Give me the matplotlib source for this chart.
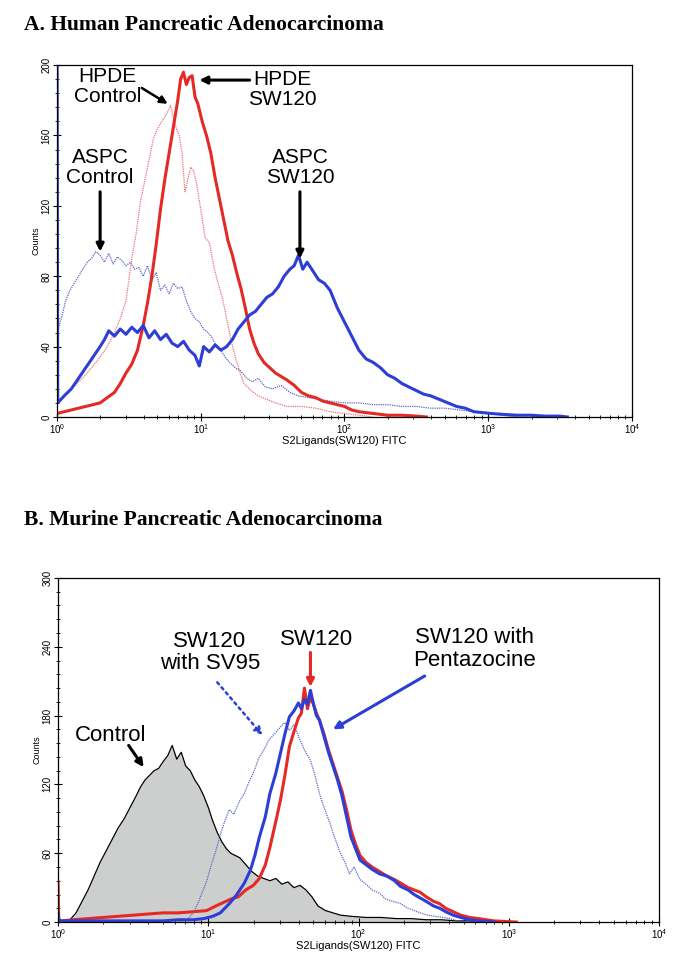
import numpy as np
import matplotlib
matplotlib.use("Agg")
import matplotlib.pyplot as plt
from matplotlib.ticker import MultipleLocator, AutoMinorLocator

plt.rcParams['font.family'] = ['Liberation Sans', 'DejaVu Sans']

RED = '#e42a24'
BLUE = '#2c3ed6'
PINK = '#e8727c'
LBLUE = '#5d66c8'

# ---- panel A: human (x in log10 channel, y in counts) ----
aspc_sw120_log = [0, 0.005, 0.05, 0.10, 0.15, 0.20, 0.25, 0.30, 0.33, 0.36,
                  0.40, 0.44, 0.48, 0.52, 0.56, 0.60, 0.64, 0.68, 0.72, 0.76,
                  0.80, 0.84, 0.88, 0.92, 0.96, 0.99, 1.02, 1.06, 1.10, 1.14,
                  1.18, 1.22, 1.26, 1.30, 1.34, 1.38, 1.42, 1.46, 1.50, 1.54,
                  1.58, 1.62, 1.65, 1.68, 1.71, 1.74, 1.78, 1.82, 1.86, 1.90,
                  1.95, 2.00, 2.05, 2.10, 2.15, 2.20, 2.25, 2.30, 2.35, 2.40,
                  2.45, 2.50, 2.55, 2.60, 2.66, 2.72, 2.78, 2.84, 2.90, 2.96,
                  3.02, 3.10, 3.20, 3.30, 3.40, 3.50, 3.55]
aspc_sw120_counts = [250, 8, 12, 16, 22, 28, 34, 40, 44, 49,
                     46, 50, 47, 51, 48, 52, 45, 49, 44, 47,
                     42, 40, 43, 38, 35, 29, 40, 37, 41, 38,
                     40, 44, 50, 54, 58, 60, 64, 68, 70, 74,
                     80, 84, 86, 92, 84, 88, 83, 78, 76, 72,
                     62, 54, 46, 38, 33, 31, 28, 24, 22, 19,
                     17, 15, 13, 12, 10, 8, 6, 5, 3, 2.5,
                     2, 1.5, 1, 1, 0.5, 0.5, 0]

hpde_sw120_log = [0, 0.05, 0.10, 0.15, 0.20, 0.25, 0.30, 0.35, 0.40, 0.44,
                  0.48, 0.52, 0.56, 0.60, 0.63, 0.66, 0.69, 0.72, 0.75, 0.78,
                  0.81, 0.84, 0.86, 0.88, 0.90, 0.92, 0.94, 0.96, 0.98, 1.01,
                  1.04, 1.07, 1.10, 1.13, 1.16, 1.19, 1.22, 1.25, 1.28, 1.31,
                  1.34, 1.37, 1.40, 1.44, 1.48, 1.52, 1.56, 1.60, 1.65, 1.70,
                  1.75, 1.80, 1.85, 1.90, 1.95, 2.00, 2.05, 2.10, 2.20, 2.30,
                  2.40, 2.50, 2.57]
hpde_sw120_counts = [2, 3, 4, 5, 6, 7, 8, 11, 14, 19,
                     25, 30, 38, 52, 65, 80, 98, 118, 135, 150,
                     165, 180, 192, 196, 189, 193, 194, 182, 178, 168,
                     160, 150, 136, 124, 112, 100, 92, 82, 73, 62,
                     50, 42, 36, 31, 28, 25, 23, 21, 18, 14,
                     12, 11, 9, 8, 7, 6, 4, 3, 2, 1,
                     1, 0.5, 0]

hpde_ctrl_log = [0, 0.05, 0.10, 0.15, 0.20, 0.25, 0.30, 0.35, 0.40, 0.44,
                 0.48, 0.52, 0.55, 0.58, 0.61, 0.64, 0.67, 0.70, 0.73, 0.76,
                 0.79, 0.81, 0.83, 0.85, 0.87, 0.89, 0.91, 0.93, 0.95, 0.97,
                 1.00, 1.03, 1.06, 1.09, 1.12, 1.15, 1.18, 1.21, 1.24, 1.27,
                 1.30, 1.35, 1.40, 1.46, 1.52, 1.60, 1.70, 1.80, 1.90, 2.00,
                 2.10, 2.20]
hpde_ctrl_counts = [8, 12, 16, 20, 24, 29, 34, 40, 48, 56,
                    66, 90, 104, 122, 134, 146, 158, 164, 168, 172,
                    177, 170, 164, 160, 150, 128, 135, 142, 140, 133,
                    118, 102, 99, 86, 76, 68, 56, 44, 34, 26,
                    19, 15, 12, 10, 8, 6, 6, 5, 3, 2,
                    1, 0]

aspc_ctrl_log = [0, 0.03, 0.06, 0.09, 0.12, 0.15, 0.18, 0.21, 0.24, 0.27,
                 0.30, 0.33, 0.36, 0.39, 0.42, 0.45, 0.48, 0.51, 0.54, 0.57,
                 0.60, 0.63, 0.66, 0.69, 0.72, 0.75, 0.78, 0.81, 0.84, 0.87,
                 0.90, 0.93, 0.96, 0.99, 1.02, 1.05, 1.08, 1.11, 1.14, 1.17,
                 1.20, 1.24, 1.28, 1.32, 1.36, 1.40, 1.45, 1.50, 1.56, 1.62,
                 1.68, 1.75, 1.82, 1.90, 2.00, 2.10, 2.20, 2.30, 2.40, 2.50,
                 2.60, 2.70, 2.80, 2.90, 3.00, 3.10, 3.20]
aspc_ctrl_counts = [48, 56, 66, 72, 76, 80, 84, 88, 90, 94,
                    92, 88, 93, 87, 91, 89, 86, 88, 84, 85,
                    80, 86, 78, 82, 72, 75, 70, 76, 73, 74,
                    66, 60, 56, 54, 50, 48, 45, 40, 38, 34,
                    31, 28, 26, 22, 20, 22, 17, 16, 18, 14,
                    12, 11, 10, 9, 8, 8, 7, 7, 6, 6,
                    5, 5, 4, 3, 2, 1, 0]

# ---- panel B: murine ----
ctrl_log = [0, 0.005, 0.02, 0.05, 0.08, 0.12, 0.16, 0.20, 0.24, 0.28,
            0.32, 0.36, 0.40, 0.44, 0.48, 0.52, 0.55, 0.58, 0.61, 0.64,
            0.67, 0.70, 0.73, 0.76, 0.79, 0.82, 0.85, 0.88, 0.91, 0.94,
            0.97, 1.00, 1.03, 1.06, 1.09, 1.12, 1.15, 1.18, 1.21, 1.25,
            1.29, 1.33, 1.37, 1.41, 1.45, 1.49, 1.53, 1.57, 1.61, 1.65,
            1.69, 1.73, 1.78, 1.83, 1.88, 1.95, 2.05, 2.15, 2.25, 2.35,
            2.45, 2.55, 2.65, 2.75, 2.85]
ctrl_counts = [47, 3, 1, 1, 2, 8, 18, 28, 40, 52,
               62, 72, 82, 90, 100, 110, 118, 124, 128, 132,
               134, 140, 145, 154, 142, 148, 136, 132, 124, 118,
               110, 100, 88, 78, 70, 64, 60, 58, 56, 50,
               44, 40, 38, 36, 38, 33, 35, 30, 32, 28,
               22, 14, 10, 8, 6, 5, 4, 4, 3, 3,
               2, 2, 1, 1, 0]

sv95_log = [0.80, 0.86, 0.90, 0.93, 0.96, 0.99, 1.02, 1.05, 1.08, 1.11,
            1.14, 1.17, 1.21, 1.24, 1.27, 1.30, 1.34, 1.37, 1.40, 1.44,
            1.48, 1.51, 1.54, 1.57, 1.61, 1.64, 1.68, 1.71, 1.74, 1.77,
            1.81, 1.84, 1.88, 1.91, 1.94, 1.97, 2.01, 2.05, 2.09, 2.14,
            2.18, 2.23, 2.28, 2.33, 2.37, 2.41, 2.46, 2.51, 2.56, 2.61,
            2.66, 2.72]
sv95_counts = [0, 2, 8, 16, 26, 36, 50, 62, 76, 88,
               98, 94, 106, 112, 122, 130, 144, 150, 158, 164,
               170, 174, 167, 172, 159, 150, 141, 128, 112, 100,
               86, 74, 60, 52, 42, 48, 37, 33, 28, 25,
               20, 18, 16, 12, 10, 8, 6, 5, 4, 3,
               1, 0]

sw120_log = [0, 0.005, 0.02, 0.1, 0.2, 0.3, 0.4, 0.5, 0.6, 0.7,
             0.8, 0.9, 0.99, 1.05, 1.10, 1.15, 1.20, 1.25, 1.30, 1.34,
             1.38, 1.41, 1.45, 1.48, 1.51, 1.54, 1.57, 1.60, 1.62, 1.64,
             1.66, 1.68, 1.70, 1.72, 1.74, 1.77, 1.80, 1.83, 1.86, 1.89,
             1.92, 1.95, 1.98, 2.01, 2.05, 2.09, 2.14, 2.19, 2.24, 2.28,
             2.33, 2.37, 2.41, 2.45, 2.50, 2.54, 2.58, 2.63, 2.68, 2.74,
             2.80, 2.90, 3.05]
sw120_counts = [35, 2, 1, 2, 3, 4, 5, 6, 7, 8,
                8, 9, 10, 14, 17, 20, 22, 28, 32, 38,
                50, 65, 88, 106, 128, 153, 166, 178, 182, 204,
                186, 196, 190, 182, 176, 164, 150, 138, 126, 114,
                98, 80, 68, 58, 52, 48, 44, 40, 37, 34,
                30, 28, 26, 22, 18, 16, 12, 9, 6, 4,
                3, 1, 0]

penta_log = [0, 0.005, 0.02, 0.1, 0.2, 0.3, 0.4, 0.5, 0.6, 0.7,
             0.8, 0.9, 0.97, 1.03, 1.08, 1.14, 1.19, 1.24, 1.28, 1.31,
             1.34, 1.38, 1.41, 1.45, 1.48, 1.51, 1.54, 1.57, 1.60, 1.62,
             1.64, 1.66, 1.68, 1.70, 1.72, 1.74, 1.77, 1.80, 1.83, 1.86,
             1.89, 1.92, 1.95, 1.98, 2.01, 2.05, 2.09, 2.14, 2.19, 2.24,
             2.28, 2.33, 2.37, 2.41, 2.45, 2.50, 2.54, 2.58, 2.63, 2.68,
             2.74, 2.80, 2.90]
penta_counts = [8, 2, 1, 1, 1, 1, 1, 1, 1, 1,
                2, 2, 3, 5, 8, 16, 24, 34, 45, 58,
                74, 92, 112, 130, 147, 164, 179, 184, 191, 186,
                194, 190, 202, 190, 180, 176, 162, 148, 136, 124,
                110, 92, 74, 64, 54, 50, 46, 42, 40, 36,
                31, 28, 24, 21, 18, 14, 12, 9, 6, 4,
                2, 1, 0]


def style_axes(ax, ymax, ystep):
    ax.set_xscale('log')
    ax.set_xlim(1, 1e4)
    ax.set_ylim(0, ymax)
    ax.yaxis.set_major_locator(MultipleLocator(ystep))
    ax.yaxis.set_minor_locator(AutoMinorLocator(5))
    ax.tick_params(which='major', direction='inout', length=6, width=0.8,
                   labelsize=7, pad=1)
    ax.tick_params(which='minor', direction='inout', length=3.5, width=0.6)
    ax.tick_params(axis='y', labelrotation=90)
    for lab in ax.get_yticklabels():
        lab.set_va('center')
    ax.set_ylabel('Counts', fontsize=6.5, labelpad=1)
    ax.set_xlabel('S2Ligands(SW120) FITC', fontsize=8, labelpad=0)
    for s in ax.spines.values():
        s.set_linewidth(0.9)


def arrow(ax, start, end, color='k', ls='-', lw=2.2):
    ax.annotate('', xy=end, xytext=start,
                arrowprops=dict(arrowstyle='-|>', color=color, lw=lw, ls=ls,
                                mutation_scale=11, shrinkA=0, shrinkB=0))


fig = plt.figure(figsize=(6.85, 9.72), dpi=100)

# Panel A
ax1 = fig.add_axes([0.0832, 0.571, 0.8394, 0.362])
ax1.plot(10 ** np.array(aspc_ctrl_log), aspc_ctrl_counts, color=LBLUE,
         lw=0.9, ls=(0, (1, 0.8)))
ax1.plot(10 ** np.array(hpde_ctrl_log), hpde_ctrl_counts, color=PINK,
         lw=0.9, ls=(0, (1, 0.8)))
ax1.plot(10 ** np.array(hpde_sw120_log), hpde_sw120_counts, color=RED, lw=2.2)
ax1.plot(10 ** np.array(aspc_sw120_log), aspc_sw120_counts, color=BLUE, lw=2.2)
style_axes(ax1, 200, 40)

tkw = dict(fontsize=15, ha='center', va='center', linespacing=1.05)
ax1.text(10 ** 0.35, 188, 'HPDE\nControl', **tkw)
arrow(ax1, (10 ** 0.59, 187), (10 ** 0.77, 178), lw=1.8)
ax1.text(10 ** 1.57, 186, 'HPDE\nSW120', **tkw)
arrow(ax1, (10 ** 1.34, 191.5), (10 ** 0.99, 191.5))
ax1.text(10 ** 0.30, 142, 'ASPC\nControl', **tkw)
arrow(ax1, (10 ** 0.30, 128), (10 ** 0.30, 94))
ax1.text(10 ** 1.69, 142, 'ASPC\nSW120', **tkw)
arrow(ax1, (10 ** 1.69, 128), (10 ** 1.69, 90))

# Panel B
ax2 = fig.add_axes([0.0847, 0.0514, 0.8774, 0.354])
cx = 10 ** np.array(ctrl_log)
ax2.fill_between(cx, ctrl_counts, color='#cdcfcf', lw=0)
ax2.plot(cx, ctrl_counts, color='k', lw=0.9)
ax2.plot(10 ** np.array(sv95_log), sv95_counts, color=LBLUE,
         lw=0.9, ls=(0, (1, 0.8)))
ax2.plot(10 ** np.array(sw120_log), sw120_counts, color=RED, lw=2.2)
ax2.plot(10 ** np.array(penta_log), penta_counts, color=BLUE, lw=2.2)
style_axes(ax2, 300, 60)

tkw2 = dict(fontsize=16, ha='center', va='center', linespacing=1.1)
ax2.text(10 ** 1.01, 235, 'SW120\nwith SV95', **tkw2)
arrow(ax2, (10 ** 1.06, 209), (10 ** 1.36, 163), color=BLUE, ls=':', lw=1.8)
ax2.text(10 ** 1.72, 246, 'SW120', **tkw2)
arrow(ax2, (10 ** 1.68, 235), (10 ** 1.68, 205), color=RED)
ax2.text(10 ** 2.77, 238, 'SW120 with\nPentazocine', **tkw2)
arrow(ax2, (10 ** 2.44, 214.5), (10 ** 1.83, 168), color=BLUE)
ax2.text(10 ** 0.35, 163, 'Control', **tkw2)
arrow(ax2, (10 ** 0.47, 154), (10 ** 0.57, 135))

# panel titles
fig.text(24 / 685, 1 - 25 / 972, 'A. Human Pancreatic Adenocarcinoma',
         family='Liberation Serif', weight='bold', fontsize=15.5, va='center')
fig.text(24 / 685, 1 - 520 / 972, 'B. Murine Pancreatic Adenocarcinoma',
         family='Liberation Serif', weight='bold', fontsize=15.5, va='center')

fig.savefig('out.png', dpi=100)
